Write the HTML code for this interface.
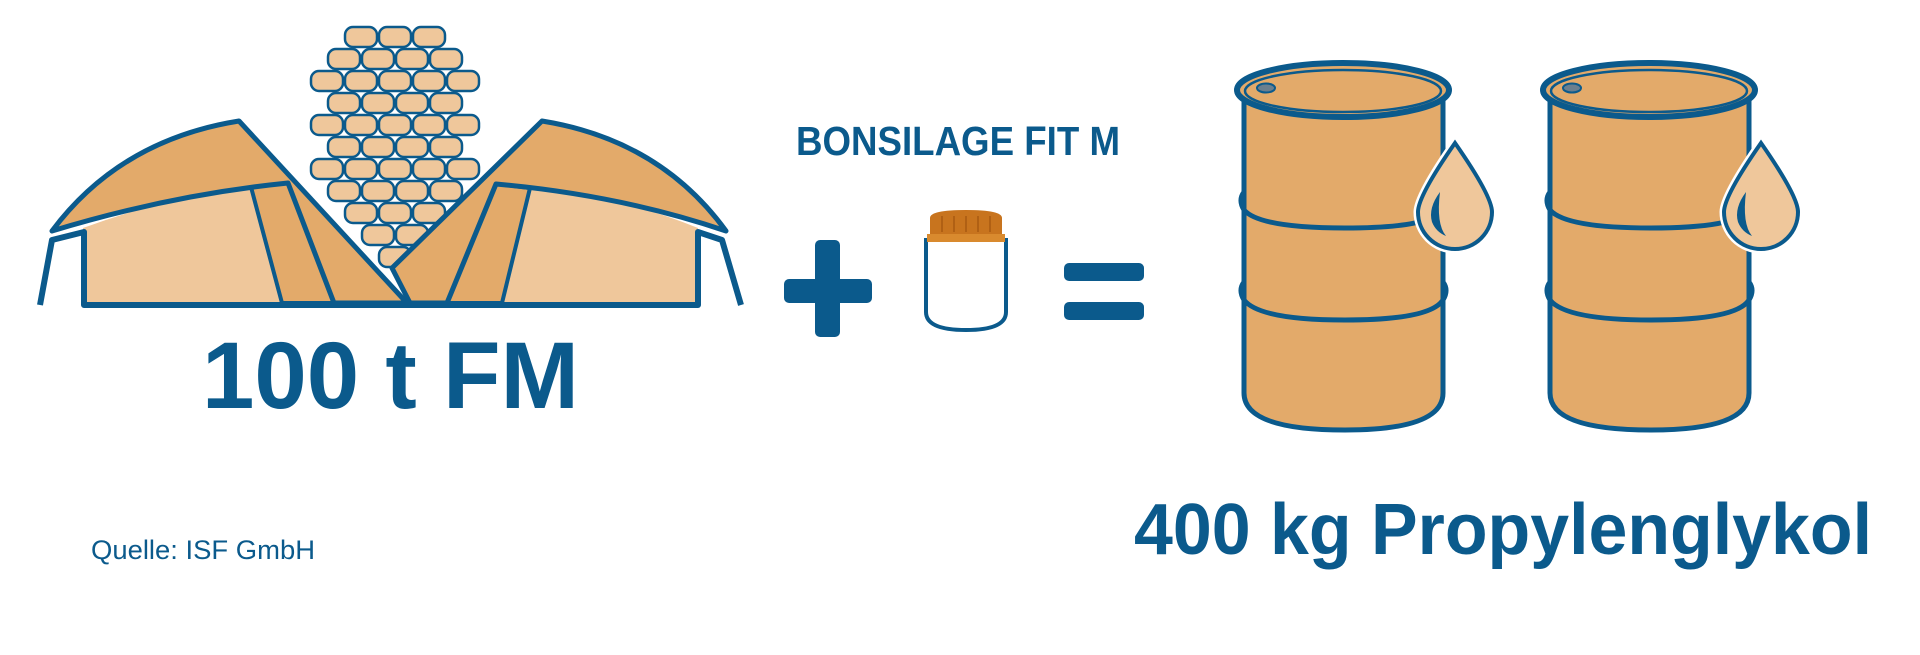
<!DOCTYPE html>
<html><head><meta charset="utf-8"><style>
html,body{margin:0;padding:0;background:#fff;}
svg{display:block}
.k{fill:#efc79b;stroke:#0b5a8c;stroke-width:2.5}
</style></head><body>
<svg width="1920" height="655" viewBox="0 0 1920 655" xmlns="http://www.w3.org/2000/svg">
<defs>
<g id="barrel">
  <path d="M1244,92 L1244,393 Q1244,430 1345,430 Q1443,430 1443,393 L1443,92 Z" fill="#e3aa6a" stroke="#0b5a8c" stroke-width="5"/>
  <path d="M1244,192 Q1238,200 1244,210 Q1260,228 1345,228 Q1430,228 1443,210 Q1449,200 1443,192" fill="none" stroke="#0b5a8c" stroke-width="5"/>
  <path d="M1244,282 Q1238,290 1244,300 Q1260,320 1345,320 Q1430,320 1443,300 Q1449,290 1443,282" fill="none" stroke="#0b5a8c" stroke-width="5"/>
  <ellipse cx="1343" cy="90" rx="106" ry="27" fill="#e3aa6a" stroke="#0b5a8c" stroke-width="6"/>
  <ellipse cx="1343" cy="91" rx="98" ry="21" fill="none" stroke="#0b5a8c" stroke-width="2.5"/>
  <ellipse cx="1266" cy="88" rx="9" ry="4.5" fill="#6b7f8e" stroke="#0b5a8c" stroke-width="2"/>
  <path d="M1455,143 Q1492,196 1492,212 A37,37 0 0 1 1418,212 Q1418,196 1455,143 Z" fill="#efc79b" stroke="#fff" stroke-width="9"/>
  <path d="M1455,143 Q1492,196 1492,212 A37,37 0 0 1 1418,212 Q1418,196 1455,143 Z" fill="#efc79b" stroke="#0b5a8c" stroke-width="4"/>
  <path d="M1440,192 Q1428,208 1432,222 Q1436,232 1446,236 Q1436,224 1440,192 Z" fill="#0b5a8c"/>
</g>
</defs>
<!-- corn -->
<g>
<rect class="k" x="345" y="27" width="32" height="20" rx="8"/><rect class="k" x="379" y="27" width="32" height="20" rx="8"/><rect class="k" x="413" y="27" width="32" height="20" rx="8"/>
<rect class="k" x="328" y="49" width="32" height="20" rx="8"/><rect class="k" x="362" y="49" width="32" height="20" rx="8"/><rect class="k" x="396" y="49" width="32" height="20" rx="8"/><rect class="k" x="430" y="49" width="32" height="20" rx="8"/>
<rect class="k" x="311" y="71" width="32" height="20" rx="8"/><rect class="k" x="345" y="71" width="32" height="20" rx="8"/><rect class="k" x="379" y="71" width="32" height="20" rx="8"/><rect class="k" x="413" y="71" width="32" height="20" rx="8"/><rect class="k" x="447" y="71" width="32" height="20" rx="8"/>
<rect class="k" x="328" y="93" width="32" height="20" rx="8"/><rect class="k" x="362" y="93" width="32" height="20" rx="8"/><rect class="k" x="396" y="93" width="32" height="20" rx="8"/><rect class="k" x="430" y="93" width="32" height="20" rx="8"/>
<rect class="k" x="311" y="115" width="32" height="20" rx="8"/><rect class="k" x="345" y="115" width="32" height="20" rx="8"/><rect class="k" x="379" y="115" width="32" height="20" rx="8"/><rect class="k" x="413" y="115" width="32" height="20" rx="8"/><rect class="k" x="447" y="115" width="32" height="20" rx="8"/>
<rect class="k" x="328" y="137" width="32" height="20" rx="8"/><rect class="k" x="362" y="137" width="32" height="20" rx="8"/><rect class="k" x="396" y="137" width="32" height="20" rx="8"/><rect class="k" x="430" y="137" width="32" height="20" rx="8"/>
<rect class="k" x="311" y="159" width="32" height="20" rx="8"/><rect class="k" x="345" y="159" width="32" height="20" rx="8"/><rect class="k" x="379" y="159" width="32" height="20" rx="8"/><rect class="k" x="413" y="159" width="32" height="20" rx="8"/><rect class="k" x="447" y="159" width="32" height="20" rx="8"/>
<rect class="k" x="328" y="181" width="32" height="20" rx="8"/><rect class="k" x="362" y="181" width="32" height="20" rx="8"/><rect class="k" x="396" y="181" width="32" height="20" rx="8"/><rect class="k" x="430" y="181" width="32" height="20" rx="8"/>
<rect class="k" x="345" y="203" width="32" height="20" rx="8"/><rect class="k" x="379" y="203" width="32" height="20" rx="8"/><rect class="k" x="413" y="203" width="32" height="20" rx="8"/>
<rect class="k" x="362" y="225" width="32" height="20" rx="8"/><rect class="k" x="396" y="225" width="32" height="20" rx="8"/>
<rect class="k" x="379" y="247" width="32" height="20" rx="8"/>
</g>
<!-- silo light panels -->
<path d="M83,228 Q170,196 251,187 L282,303 L83,303 Z" fill="#efc79b"/>
<path d="M698,228 Q620,196 530,188 L502,303 L698,303 Z" fill="#efc79b"/>
<!-- strips -->
<path d="M251,187 L288,183 L334,303 L282,303 Z" fill="#e3aa6a" stroke="#0b5a8c" stroke-width="4"/>
<path d="M530,188 L496,184 L447,303 L502,303 Z" fill="#e3aa6a" stroke="#0b5a8c" stroke-width="4"/>
<!-- roofs -->
<path d="M52,231 Q120,140 239,121 L407,303 L334,303 L288,183 Q170,195 52,231 Z" fill="#e3aa6a" stroke="#0b5a8c" stroke-width="5" stroke-linejoin="round"/>
<path d="M726,231 Q660,140 542,121 L392,268 L410,303 L447,303 L496,184 Q620,195 726,231 Z" fill="#e3aa6a" stroke="#0b5a8c" stroke-width="5" stroke-linejoin="round"/>
<!-- legs & base -->
<path d="M40,305 L52,240 L84,232 L84,305 L698,305 L698,232 L722,240 L741,305" fill="none" stroke="#0b5a8c" stroke-width="6" stroke-linejoin="round"/>
<!-- plus -->
<rect x="784" y="279" width="88" height="24" rx="5" fill="#0b5a8c"/>
<rect x="815" y="240" width="25" height="97" rx="5" fill="#0b5a8c"/>
<!-- jar -->
<path d="M926,240 L926,312 Q926,330 966,330 Q1006,330 1006,312 L1006,240 Z" fill="#fff" stroke="#0b5a8c" stroke-width="4"/>
<path d="M930,236 L930,218 Q930,210 966,210 Q1002,210 1002,218 L1002,236 Z" fill="#c8741e"/>
<rect x="927" y="234" width="78" height="8" fill="#d98a2e"/>
<g stroke="#a85a10" stroke-width="1.5"><line x1="942" y1="216" x2="942" y2="232"/><line x1="954" y1="216" x2="954" y2="232"/><line x1="966" y1="216" x2="966" y2="232"/><line x1="978" y1="216" x2="978" y2="232"/><line x1="990" y1="216" x2="990" y2="232"/></g>
<!-- equals -->
<rect x="1064" y="263" width="80" height="18" rx="5" fill="#0b5a8c"/>
<rect x="1064" y="302" width="80" height="18" rx="5" fill="#0b5a8c"/>
<!-- barrels -->
<use href="#barrel"/>
<use href="#barrel" transform="translate(306,0)"/>
<!-- texts -->
<g font-family="Liberation Sans, sans-serif" fill="#0b5a8c">
<text x="796" y="155" font-size="41" font-weight="bold" textLength="324" lengthAdjust="spacingAndGlyphs">BONSILAGE FIT M</text>
<text x="202" y="408" font-size="95" font-weight="bold" textLength="377" lengthAdjust="spacingAndGlyphs">100 t FM</text>
<text x="91" y="559" font-size="27" textLength="224" lengthAdjust="spacingAndGlyphs">Quelle: ISF GmbH</text>
<text x="1134" y="554" font-size="72" font-weight="bold" textLength="738" lengthAdjust="spacingAndGlyphs">400 kg Propylenglykol</text>
</g>
</svg>
</body></html>
